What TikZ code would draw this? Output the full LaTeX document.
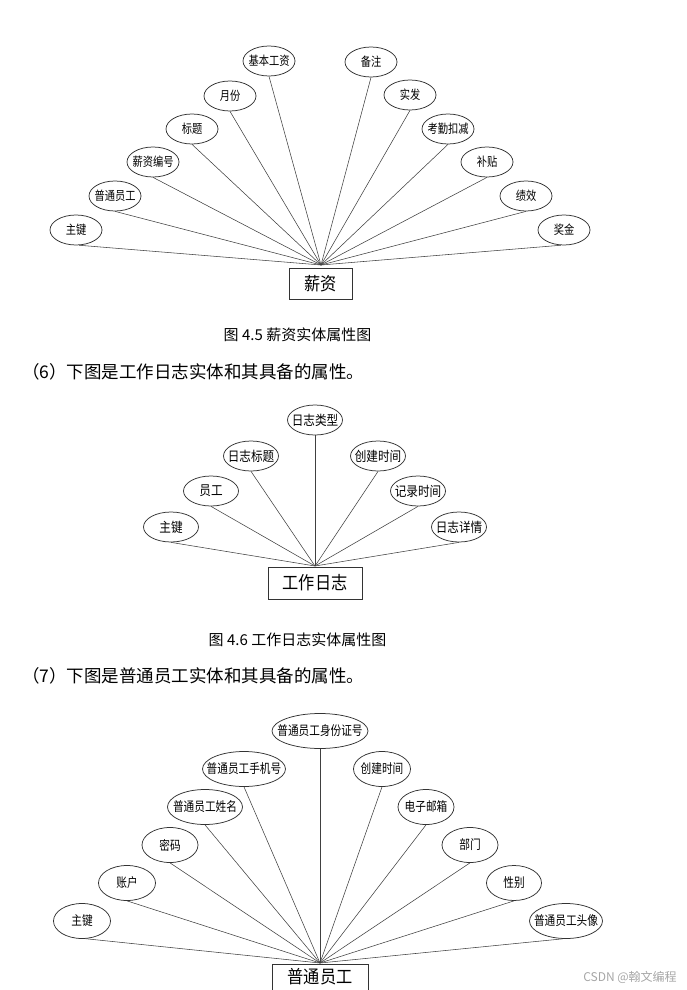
\documentclass[tikz,border=0pt]{standalone}
\usepackage{fontspec}
\usepackage{graphicx}
\setmainfont{Noto Sans CJK SC}
\usetikzlibrary{shapes.geometric}
\begin{document}
\begin{tikzpicture}[x=1pt,y=-1pt,
  attr/.style={ellipse,draw=black!80,line width=0.75pt,inner sep=0pt},
  ea/.style={attr,minimum width=52pt,minimum height=30pt,font=\fontsize{12.5}{12.5}\selectfont},
  eb/.style={attr,minimum width=55pt,minimum height=30pt,font=\fontsize{13.5}{13.5}\selectfont},
  ec/.style={attr,minimum height=35pt,minimum width=#1,font=\fontsize{13}{13}\selectfont},
  ent/.style={draw=black!80,line width=0.75pt,inner sep=0pt,font=\fontsize{18}{18}\selectfont},
  conn/.style={draw=black!75,line width=0.55pt},
  captext/.style={font=\fontsize{15}{15}\selectfont,inner sep=0pt},
  para/.style={font=\fontsize{17.5}{17.5}\selectfont,inner sep=0pt,anchor=west}
]
\useasboundingbox (0,0) rectangle (687,990);
\clip (0,0) rectangle (687,990);

% ---------- Diagram 1: 薪资 ----------
\node[ent,minimum width=63pt,minimum height=31pt] (b1) at (320.5,283.5) {\scalebox{0.9}[1]{薪资}};
\coordinate (h1) at (321,265);
\node[ea] (e11) at (269,61) {\makebox[0pt]{\scalebox{0.82}[1]{基本工资}}};
\node[ea] (e12) at (230,96) {\makebox[0pt]{\scalebox{0.82}[1]{月份}}};
\node[ea] (e13) at (192,129) {\makebox[0pt]{\scalebox{0.82}[1]{标题}}};
\node[ea] (e14) at (153,162) {\makebox[0pt]{\scalebox{0.82}[1]{薪资编号}}};
\node[ea] (e15) at (115,196) {\makebox[0pt]{\scalebox{0.82}[1]{普通员工}}};
\node[ea] (e16) at (76,230) {\makebox[0pt]{\scalebox{0.82}[1]{主键}}};
\node[ea] (e17) at (371,62) {\makebox[0pt]{\scalebox{0.82}[1]{备注}}};
\node[ea] (e18) at (410,95) {\makebox[0pt]{\scalebox{0.82}[1]{实发}}};
\node[ea] (e19) at (448,129) {\makebox[0pt]{\scalebox{0.82}[1]{考勤扣减}}};
\node[ea] (e110) at (487,162) {\makebox[0pt]{\scalebox{0.82}[1]{补贴}}};
\node[ea] (e111) at (526,196) {\makebox[0pt]{\scalebox{0.82}[1]{绩效}}};
\node[ea] (e112) at (564,230) {\makebox[0pt]{\scalebox{0.82}[1]{奖金}}};
\foreach \n in {e11,e12,e13,e14,e15,e17,e18,e19,e110,e111}
  \draw[conn] (h1) -- (\n.south);
\draw[conn] (h1) -- (e16.-78);
\draw[conn] (h1) -- (e112.-102);

\node[captext] (c1) at (297.5,335) {图 4.5 薪资实体属性图};
\node[para] (p6) at (22,372) {（6）下图是工作日志实体和其具备的属性。};

% ---------- Diagram 2: 工作日志 ----------
\node[ent,minimum width=94pt,minimum height=32pt] (b2) at (315,583) {\scalebox{0.9}[1]{工作日志}};
\coordinate (h2) at (315,566);
\node[eb] (e21) at (315,420) {\makebox[0pt]{\scalebox{0.86}[1]{日志类型}}};
\node[eb] (e22) at (251,456) {\makebox[0pt]{\scalebox{0.86}[1]{日志标题}}};
\node[eb] (e23) at (211,491) {\makebox[0pt]{\scalebox{0.86}[1]{员工}}};
\node[eb] (e24) at (171,527) {\makebox[0pt]{\scalebox{0.86}[1]{主键}}};
\node[eb] (e25) at (378,456) {\makebox[0pt]{\scalebox{0.86}[1]{创建时间}}};
\node[eb] (e26) at (418,491) {\makebox[0pt]{\scalebox{0.86}[1]{记录时间}}};
\node[eb] (e27) at (459,527) {\makebox[0pt]{\scalebox{0.86}[1]{日志详情}}};
\foreach \n in {e21,e22,e23,e24,e25,e26,e27}
  \draw[conn] (h2) -- (\n.south);

\node[captext] (c2) at (297.5,640) {图 4.6 工作日志实体属性图};
\node[para] (p7) at (22,676) {（7）下图是普通员工实体和其具备的属性。};

% ---------- Diagram 3: 普通员工 ----------
\node[ent,minimum width=96pt,minimum height=40pt,anchor=north] (b3) at (320,964) {};
\node[inner sep=0pt,font=\fontsize{18}{18}\selectfont] (t3) at (320,976.5) {\scalebox{0.9}[1]{普通员工}};
\coordinate (h3) at (320,963);
\node[ec=96pt] (e31) at (320,731) {\makebox[0pt]{\scalebox{0.82}[1]{普通员工身份证号}}};
\node[ec=83pt] (e32) at (244,769) {\makebox[0pt]{\scalebox{0.82}[1]{普通员工手机号}}};
\node[ec=75pt] (e33) at (205,807) {\makebox[0pt]{\scalebox{0.82}[1]{普通员工姓名}}};
\node[ec=56pt] (e34) at (170,845) {\makebox[0pt]{\scalebox{0.82}[1]{密码}}};
\node[ec=57pt] (e35) at (127,883) {\makebox[0pt]{\scalebox{0.82}[1]{账户}}};
\node[ec=57pt] (e36) at (82,921) {\makebox[0pt]{\scalebox{0.82}[1]{主键}}};
\node[ec=57pt] (e37) at (382,769) {\makebox[0pt]{\scalebox{0.82}[1]{创建时间}}};
\node[ec=56pt] (e38) at (426,807) {\makebox[0pt]{\scalebox{0.82}[1]{电子邮箱}}};
\node[ec=56pt] (e39) at (470,845) {\makebox[0pt]{\scalebox{0.82}[1]{部门}}};
\node[ec=55pt] (e310) at (514,883) {\makebox[0pt]{\scalebox{0.82}[1]{性别}}};
\node[ec=73pt] (e311) at (566,921) {\makebox[0pt]{\scalebox{0.82}[1]{普通员工头像}}};
\foreach \n in {e31,e32,e33,e34,e35,e37,e38,e39,e310}
  \draw[conn] (h3) -- (\n.south);
\draw[conn] (h3) -- (e36.-78);
\draw[conn] (h3) -- (e311.-100);

\node[inner sep=0pt,text=black!35,font=\fontsize{12}{12}\selectfont] (wm) at (630,977) {CSDN @翰文编程};
\end{tikzpicture}
\end{document}
